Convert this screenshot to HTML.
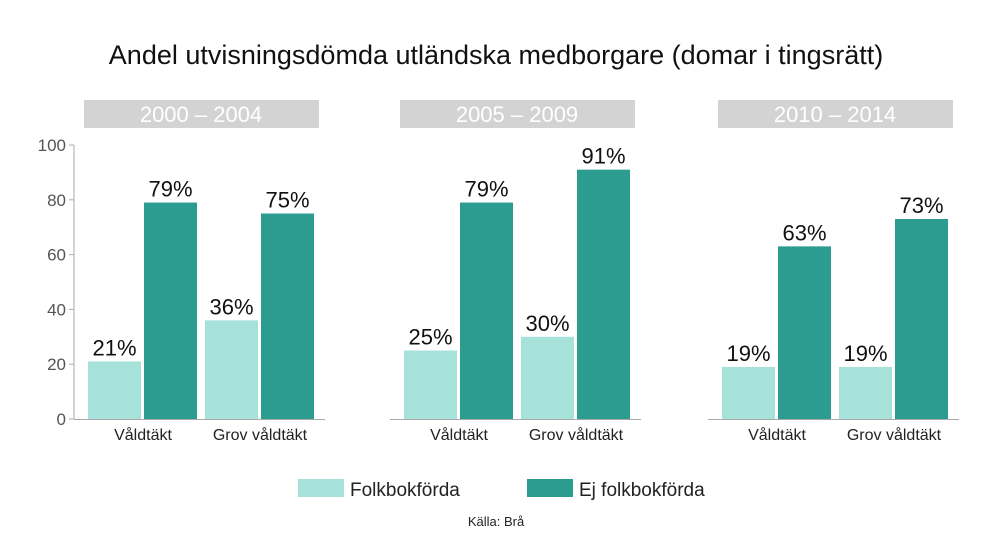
<!DOCTYPE html>
<html><head><meta charset="utf-8"><style>
body{margin:0;background:#fff;font-family:"Liberation Sans",sans-serif;}
svg{display:block}
</style></head><body>
<svg width="992" height="558" viewBox="0 0 992 558" xmlns="http://www.w3.org/2000/svg">
<text x="496" y="64" text-anchor="middle" font-size="27" fill="#111">Andel utvisningsdömda utländska medborgare  (domar i tingsrätt)</text>
<g id="plot"></g>
<g>
<rect x="298" y="479" width="46" height="18" fill="#a6e1da"/>
<text x="350" y="496" font-size="19" fill="#222">Folkbokförda</text>
<rect x="527" y="479" width="46" height="18" fill="#2c9b90"/>
<text x="579" y="496" font-size="19" fill="#222">Ej folkbokförda</text>
</g>
<text x="496" y="526" text-anchor="middle" font-size="13" fill="#222">Källa: Brå</text>
</svg>
<script>
const periods = ["2000 – 2004", "2005 – 2009", "2010 – 2014"];
const categories = ["Våldtäkt", "Grov våldtäkt"];
const folkbokforda = [[21, 36], [25, 30], [19, 19]];
const ejFolkbokforda = [[79, 75], [79, 91], [63, 73]];
const yTicks = [0, 20, 40, 60, 80, 100];

const NS = "http://www.w3.org/2000/svg";
const g = document.getElementById("plot");
const y0 = 419, yTop = 145;
const y = v => y0 - (v / 100) * (y0 - yTop);
const panelX = [88, 404, 722];
const bw = 53;
function mk(tag, attrs, parent) {
  const e = document.createElementNS(NS, tag);
  for (const k in attrs) e.setAttribute(k, attrs[k]);
  (parent || g).appendChild(e);
  return e;
}
// y axis
const ax = mk("line", {x1: 74, y1: yTop, x2: 74, y2: y0, stroke: "#aaa", "stroke-width": 1});


yTicks.forEach(t => {
  const tl = mk("line", {x1: 69, x2: 74, y1: y(t), y2: y(t), stroke: "#aaa"});
  
  
  const tx = mk("text", {x: 66, y: y(t) + 6, "text-anchor": "end", "font-size": 17, fill: "#555"});
  tx.textContent = t;
  
  
});
periods.forEach((p, pi) => {
  const px = panelX[pi];
  const hb = mk("rect", {x: px - 4, y: 100, width: 235, height: 28, fill: "#d3d3d3"});
  
  
  const ht = mk("text", {x: px + 113, y: 122, "text-anchor": "middle", "font-size": 22, fill: "#fff"});
  ht.textContent = p;
  
  
  const bl = mk("line", {x1: px - 14, x2: px + 237, y1: y0 + 0.5, y2: y0 + 0.5, stroke: "#aaa"});
  
  
  categories.forEach((c, ci) => {
    const cx = px + ci * 117;
    [[folkbokforda, "#a6e1da", 0], [ejFolkbokforda, "#2c9b90", 56]].forEach(([arr, col, off]) => {
      const v = arr[pi][ci];
      const r = mk("rect", {x: cx + off, y: y(v), width: bw, height: y0 - y(v), fill: col});
      
      
      const t = mk("text", {x: cx + off + bw / 2, y: y(v) - 6, "text-anchor": "middle", "font-size": 22, fill: "#111"});
      t.textContent = v + "%";
      
      
    });
    const ct = mk("text", {x: cx + 55, y: 440, "text-anchor": "middle", "font-size": 16, fill: "#222"});
    ct.textContent = c;
    
    
  });
});
</script>
</body></html>
